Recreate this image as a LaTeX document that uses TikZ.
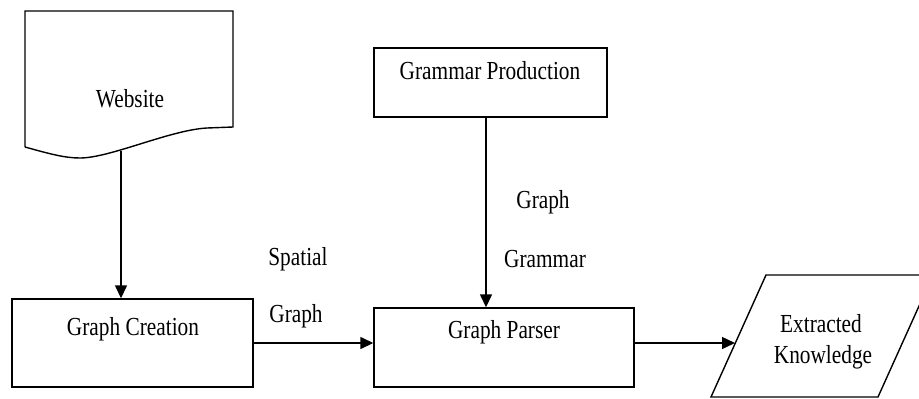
\documentclass[tikz,border=0pt]{standalone}
\usepackage{fontspec}
\setmainfont{Liberation Serif}[FakeStretch=0.82]
\usetikzlibrary{arrows.meta}

\begin{document}
\begin{tikzpicture}[x=1pt, y=-1pt, line width=1.4pt,
  every node/.style={font=\fontsize{26}{30}\selectfont, inner sep=0pt},
  stepbox/.style={draw, rectangle, line width=1.4pt},
  txt/.style={anchor=base},
  flow/.style={-{Triangle[length=13pt,width=12pt]}}]

\useasboundingbox (0,0) rectangle (919,399);
\clip (0,0) rectangle (919,399);

% document symbol with wavy bottom
\draw (25,147) -- (25,11) -- (233,11) -- (233,127) -- (207,128)
  .. controls (170,130) and (110,158) .. (80,158)
  .. controls (65,158) and (50,154) .. (25,147);
\coordinate (webout) at (121,151);
\node[txt] (website) at (130,107) {Website};

% process boxes
\node[stepbox, minimum width=241pt, minimum height=88pt] (gc) at (132.5,343) {};
\node[txt] (gctext) at (133,335) {Graph Creation};

\node[stepbox, minimum width=233pt, minimum height=69pt] (grp) at (490.5,82.5) {};
\node[txt] (grptext) at (490,79) {Grammar Production};

\node[stepbox, minimum width=260pt, minimum height=79pt] (gp) at (504,347.5) {};
\node[txt] (gptext) at (504,338) {Graph Parser};

% output parallelogram
\draw (711,397) -- (766,275) -- (933,275) -- (878,397) -- cycle;
\coordinate (knin) at (735,343);
\node[txt] (ex) at (821,332) {Extracted};
\node[txt] (kn) at (823,363) {Knowledge};

% edge labels
\node[txt] (sp1) at (298,265) {Spatial};
\node[txt] (sp2) at (296,322) {Graph};
\node[txt] (gg1) at (543,208) {Graph};
\node[txt] (gg2) at (545,267) {Grammar};

% connectors
\draw[flow] (webout) -- (webout |- gc.north);
\draw[flow] ([xshift=-4.5pt]grp.south) -- ([xshift=-4.5pt]grp.south |- gp.north);
\draw[flow] (gc.east) -- (gc.east -| gp.west);
\draw[flow] (gc.east -| gp.east) -- (knin);
\end{tikzpicture}
\end{document}
